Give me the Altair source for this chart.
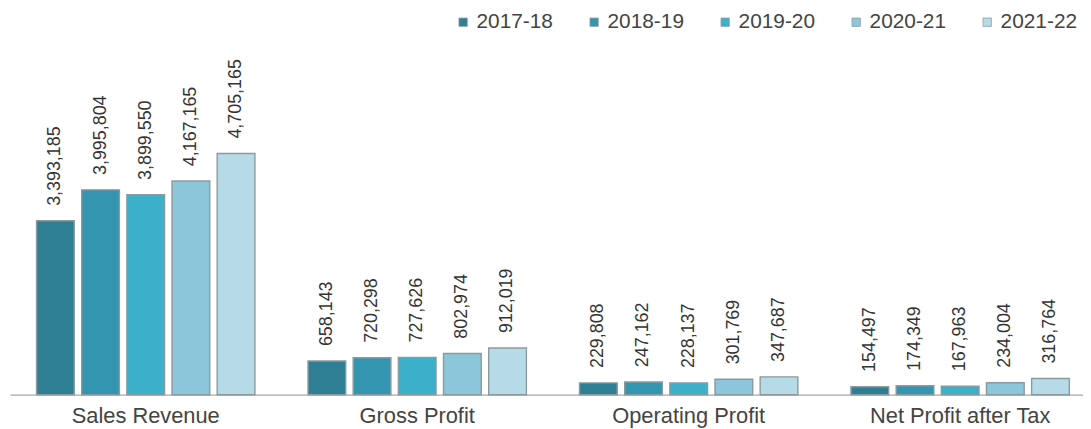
import altair as alt
import pandas as pd

categories = ["Sales Revenue", "Gross Profit", "Operating Profit", "Net Profit after Tax"]
years = ["2017-18", "2018-19", "2019-20", "2020-21", "2021-22"]
sales_revenue = [3393185, 3995804, 3899550, 4167165, 4705165]
gross_profit = [658143, 720298, 727626, 802974, 912019]
operating_profit = [229808, 247162, 228137, 301769, 347687]
net_profit = [154497, 174349, 167963, 234004, 316764]
colors = ["#2f7f94", "#3495b0", "#3db0c9", "#8cc6da", "#b6dbe7"]

rows = []
for cat, vals in zip(categories, [sales_revenue, gross_profit, operating_profit, net_profit]):
    for yr, v in zip(years, vals):
        rows.append({"category": cat, "year": yr, "value": v})
df = pd.DataFrame(rows)

FONT = "Liberation Sans"

x = alt.X(
    "category:N",
    sort=categories,
    scale=alt.Scale(range=[2, 1096], paddingInner=0, paddingOuter=0),
    axis=alt.Axis(
        title=None, labelAngle=0, ticks=False, domainColor="#a8a8a8", domainWidth=1.2,
        labelFontSize=22, labelColor="#444444", labelPadding=11, labelFont=FONT,
        labelLimit=0,
    ),
)
xo = alt.XOffset("year:N", sort=years, scale=alt.Scale(paddingInner=0.165, paddingOuter=0.588))
y = alt.Y("value:Q", scale=alt.Scale(domain=[0, 7512800], nice=False), axis=None)

base = alt.Chart(df)

bars = base.mark_bar(stroke="#8a9a9f", strokeWidth=1.4).encode(
    x=x,
    xOffset=xo,
    y=y,
    color=alt.Color(
        "year:N",
        sort=years,
        scale=alt.Scale(domain=years, range=colors),
        legend=alt.Legend(
            orient="none", legendX=448, legendY=2, direction="horizontal", columns=5,
            symbolType="square", symbolSize=70, labelFontSize=21, labelColor="#444444",
            labelFont=FONT, columnPadding=30, title=None, padding=0,
            symbolStrokeColor="#8a9a9f", symbolStrokeWidth=0.8, labelOffset=3,
        ),
    ),
)

labels = base.mark_text(
    angle=270, align="left", baseline="middle", dx=15, fontSize=18, color="#333333", font=FONT
).encode(
    x=x,
    xOffset=xo,
    y=y,
    text=alt.Text("value:Q", format=","),
)

chart = alt.layer(bars, labels).properties(
    width=1083,
    height=388,
    autosize=alt.AutoSizeParams(type="none"),
    padding={"left": 0, "top": 0, "right": 0, "bottom": 33},
).configure_view(stroke=None)

chart.save("out.html", embed_options={"renderer": "svg", "actions": False})
